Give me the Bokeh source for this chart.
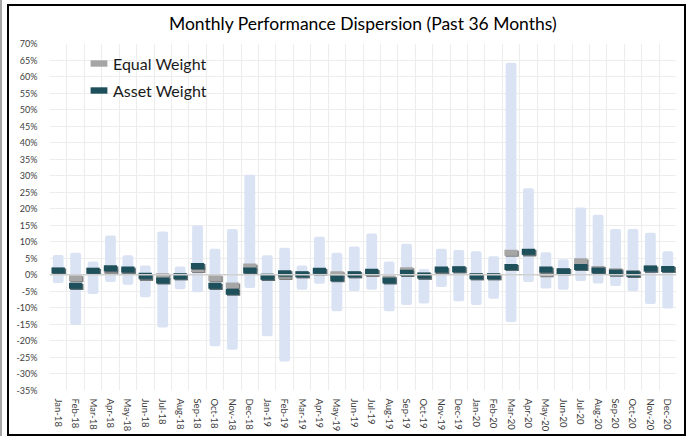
import numpy as np
from bokeh.plotting import figure
from bokeh.layouts import column
from bokeh.models import (Range1d, FixedTicker, Span, Legend, LegendItem,
                          PrintfTickFormatter, ColumnDataSource)
from bokeh.transform import dodge
from bokeh.embed import file_html
from bokeh.resources import INLINE

months = ["Jan-18", "Feb-18", "Mar-18", "Apr-18", "May-18", "Jun-18", "Jul-18", "Aug-18",
          "Sep-18", "Oct-18", "Nov-18", "Dec-18", "Jan-19", "Feb-19", "Mar-19", "Apr-19",
          "May-19", "Jun-19", "Jul-19", "Aug-19", "Sep-19", "Oct-19", "Nov-19", "Dec-19",
          "Jan-20", "Feb-20", "Mar-20", "Apr-20", "May-20", "Jun-20", "Jul-20", "Aug-20",
          "Sep-20", "Oct-20", "Nov-20", "Dec-20"]
range_high = [6.0, 6.7, 4.0, 11.9, 5.9, 2.8, 13.1, 2.5, 15.0, 7.9, 13.9, 30.3,
              5.9, 8.2, 2.8, 11.5, 6.7, 8.6, 12.5, 4.0, 9.4, 1.8, 7.9, 7.5,
              7.1, 5.6, 64.2, 26.2, 6.8, 4.7, 20.4, 18.2, 13.9, 13.9, 12.7, 7.1]
range_low = [-2.5, -15.2, -5.8, -2.2, -3.0, -6.8, -15.9, -4.4, -5.3, -21.6, -22.7, -4.0,
             -18.6, -26.2, -4.5, -2.7, -11.0, -4.9, -4.5, -11.0, -9.1, -8.7, -3.7, -8.0,
             -9.1, -7.2, -14.3, -2.2, -4.1, -4.5, -1.9, -2.6, -3.4, -4.9, -8.8, -10.2]
equal_weight = [1.3, -1.0, 1.2, 1.3, 1.2, -0.6, -0.4, -0.4, 1.8, -1.0, -3.2, 2.5,
                -0.6, -0.3, 0.2, 1.0, 0.2, 0.2, 0.6, -1.2, 1.4, -0.2, 1.2, 1.7,
                -0.4, -0.4, 6.7, 6.8, 0.5, 1.1, 4.1, 1.8, 1.1, 0.5, 1.9, 1.8]
asset_weight = [1.3, -3.3, 1.2, 2.0, 1.6, -0.3, -1.7, -0.4, 2.7, -3.3, -5.1, 1.3,
                -0.6, 0.5, 0.2, 1.2, -1.0, 0.2, 0.9, -1.7, 0.6, -0.2, 1.6, 1.7,
                -0.4, -0.4, 2.4, 7.0, 1.6, 1.1, 2.4, 1.3, 0.7, 0.3, 1.9, 1.8]
y_ticks = list(range(-35, 75, 5))

x = np.arange(len(months)) + 0.5
src = ColumnDataSource(dict(x=x, hi=range_high, lo=range_low,
                            ew=equal_weight, aw=asset_weight))

FONT = "Lato"
p = figure(width=675, height=433, output_backend="svg", toolbar_location=None,
           x_range=Range1d(0, len(months)), y_range=Range1d(y_ticks[0], y_ticks[-1]),
           min_border_left=40, min_border_right=8, min_border_top=42, min_border_bottom=44,
           margin=(-5, 0, 0, 0))
p.outline_line_color = None
p.background_fill_color = "white"
p.border_fill_alpha = 0

p.title.text = "Monthly Performance Dispersion (Past 36 Months)"
p.title.align = "center"
p.title.text_font = FONT
p.title.text_font_size = "17.5px"
p.title.text_font_style = "normal"
p.title.text_color = "#000000"
p.title.text_line_height = 0.8
p.title.standoff = 19

# grids
p.xgrid.ticker = FixedTicker(ticks=list(range(len(months) + 1)))
p.ygrid.ticker = FixedTicker(ticks=y_ticks)
for g in (p.xgrid, p.ygrid):
    g.grid_line_color = "#EDEDED"
    g.grid_line_width = 1.2

# axes
p.xaxis.ticker = FixedTicker(ticks=list(x))
p.xaxis.major_label_overrides = {float(v): m for v, m in zip(x, months)}
p.xaxis.major_label_orientation = "vertical"
p.yaxis.ticker = FixedTicker(ticks=y_ticks)
p.yaxis.formatter = PrintfTickFormatter(format="%d%%")
for ax in (p.xaxis, p.yaxis):
    ax.axis_line_color = None
    ax.major_tick_line_color = None
    ax.minor_tick_line_color = None
    ax.major_label_text_font = FONT
    ax.major_label_text_color = "#404040"
p.xaxis.major_label_text_font_size = "9.5px"
p.yaxis.major_label_text_font_size = "9px"
p.xaxis.major_label_standoff = 2
p.yaxis.major_label_standoff = 6

p.add_layout(Span(location=0, dimension="width", line_color="#D0D0D0", line_width=1.5))

p.vbar(x="x", top="hi", bottom="lo", width=0.62, source=src,
       fill_color="#DAE3F3", line_color=None, border_radius=2)

mw = 0.76
p.rect(x=dodge("x", 0.07), y=dodge("ew", -0.35), width=mw, height=6, height_units="screen",
       source=src, fill_color="#7F7F7F", line_color=None)
r_ew = p.rect(x="x", y="ew", width=mw, height=6, height_units="screen",
              source=src, fill_color="#A6A6A6", line_color=None)
p.rect(x=dodge("x", 0.07), y=dodge("aw", -0.35), width=mw, height=6, height_units="screen",
       source=src, fill_color="#5A6B70", line_color=None)
r_aw = p.rect(x="x", y="aw", width=mw, height=6, height_units="screen",
              source=src, fill_color="#1E505C", line_color=None)

legend = Legend(items=[LegendItem(label="Equal Weight", renderers=[r_ew]),
                       LegendItem(label="Asset Weight", renderers=[r_aw])],
                location=(39, 290), orientation="vertical")
legend.background_fill_alpha = 0
legend.border_line_color = None
legend.padding = 0
legend.margin = 0
legend.spacing = 7
legend.glyph_width = 21
legend.glyph_height = 8
legend.label_height = 20
legend.label_standoff = 4
legend.label_text_font = FONT
legend.label_text_font_size = "16px"
legend.label_text_color = "#1A1A1A"
p.add_layout(legend, "center")

inner = column(p, margin=(4, 0, 0, 5),
               styles={"border": "2px solid black", "background-color": "white"})
layout = column(inner, margin=0, styles={"border-left": "2px solid #A6A6A6"})

open("out.html", "w").write(file_html(layout, INLINE))
